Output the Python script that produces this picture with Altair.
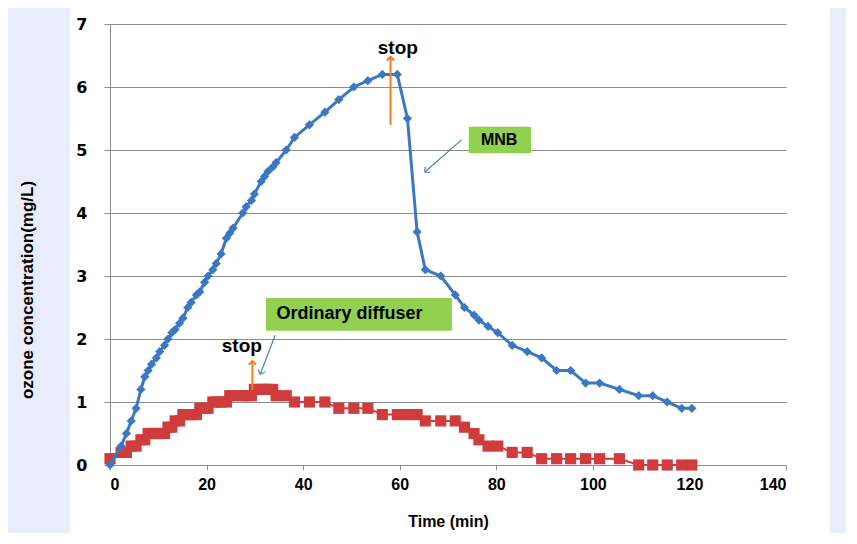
import altair as alt
import pandas as pd

# ---- data ----
time_min = [0, 2.3, 3.4, 4.4, 5.4, 6.4, 7.2, 7.9, 8.6, 9.6,
            10.3, 11.3, 12, 12.8, 13.5, 14.4, 15.1, 16.1, 16.8, 17.9,
            18.6, 19.6, 20.3, 21.3, 22, 23, 24.1, 24.8, 25.5, 27.5,
            28.2, 29.3, 29.9, 31.3, 32, 32.7, 33.7, 34.4, 36.5, 38.2,
            41.3, 44.5, 47.4, 50.5, 53.4, 56.4, 59.5, 61.6, 63.6, 65.3,
            68.5, 71.5, 73.4, 75.4, 76.4, 78.3, 80.3, 83.3, 86.4, 89.4,
            92.5, 95.4, 98.5, 101.4, 105.5, 109.5, 112.4, 115.4, 118.4, 120.5]
mnb = [0, 0.3, 0.5, 0.7, 0.9, 1.2, 1.4, 1.5, 1.6, 1.7,
       1.8, 1.9, 2.0, 2.1, 2.15, 2.25, 2.33, 2.5, 2.58, 2.7,
       2.75, 2.9, 3.0, 3.1, 3.2, 3.35, 3.6, 3.68, 3.76, 4.0,
       4.1, 4.2, 4.3, 4.5, 4.58, 4.66, 4.73, 4.8, 5.0, 5.2,
       5.4, 5.6, 5.8, 6.0, 6.1, 6.2, 6.2, 5.5, 3.7, 3.1,
       3.0, 2.7, 2.5, 2.38, 2.3, 2.2, 2.1, 1.9, 1.8, 1.7,
       1.5, 1.5, 1.3, 1.3, 1.2, 1.1, 1.1, 1.0, 0.9, 0.9]
diffuser = [0.1, 0.2, 0.2, 0.3, 0.3, 0.4, 0.4, 0.5, 0.5, 0.5,
            0.5, 0.5, 0.6, 0.6, 0.7, 0.7, 0.8, 0.8, 0.8, 0.8,
            0.9, 0.9, 0.9, 1.0, 1.0, 1.0, 1.0, 1.1, 1.1, 1.1,
            1.1, 1.1, 1.2, 1.2, 1.2, 1.2, 1.2, 1.1, 1.1, 1.0,
            1.0, 1.0, 0.9, 0.9, 0.9, 0.8, 0.8, 0.8, 0.8, 0.7,
            0.7, 0.7, 0.6, 0.5, 0.4, 0.3, 0.3, 0.2, 0.2, 0.1,
            0.1, 0.1, 0.1, 0.1, 0.1, 0, 0, 0, 0, 0]

x_ticks = [0, 20, 40, 60, 80, 100, 120, 140]
y_ticks = [0, 1, 2, 3, 4, 5, 6, 7]

# annotations (data units)
stop_t = [59.6, 27.3]
stop_c = [6.62, 1.89]
stop_labels = ["stop", "stop"]
orange_t = [58.1, 29.5]
orange_c0 = [5.4, 1.19]
orange_c1 = [6.48, 1.65]
box_labels = ["MNB", "Ordinary diffuser"]
box_t0 = [74.3, 32.3]
box_t1 = [87.2, 70.8]
box_c0 = [4.95, 2.13]
box_c1 = [5.37, 2.65]
box_tc = [80.6, 49.6]
box_cc = [5.16, 2.39]
box_fs = [16, 18]
call_t0 = [72.8, 34.2]
call_c0 = [5.16, 2.06]
call_t1 = [65.2, 31.1]
call_c1 = [4.65, 1.44]
call_angle = [229, 201]

BLUE = "#3b78c3"
RED = "#d03c3c"
ORANGE = "#f47d20"
GREEN = "#92d050"
GRID = "#8c8c8c"
BG = "#e9ecfa"

df = pd.DataFrame({"time": time_min, "mnb": mnb, "diffuser": diffuser})
stops = pd.DataFrame({"t": stop_t, "c": stop_c, "label": stop_labels})
oranges = pd.DataFrame({"t": orange_t, "c0": orange_c0, "c1": orange_c1, "ang": [0, 0]})
boxes = pd.DataFrame({"t0": box_t0, "t1": box_t1, "c0": box_c0, "c1": box_c1,
                      "tc": box_tc, "cc": box_cc, "label": box_labels, "fs": box_fs})
calls = pd.DataFrame({"t0": call_t0, "c0": call_c0, "t1": call_t1, "c1": call_c1,
                      "ang": call_angle})
one = pd.DataFrame({"k": [0]})

xs = alt.Scale(domain=[0, 140], nice=False, zero=False)
ys = alt.Scale(domain=[0, 7], nice=False)

x_axis = alt.Axis(values=x_ticks, title="Time (min)", grid=False,
                  domainColor=GRID, tickColor=GRID, tickSize=5,
                  labelFont="Liberation Sans Narrow, Liberation Sans", labelFontSize=16,
                  labelFontWeight="bold", labelColor="black", labelPadding=6,
                  titleFont="Liberation Sans Narrow, Liberation Sans", titleFontSize=16,
                  titleFontWeight="bold", titleColor="black",
                  titleBaseline="middle", titleY=56)
y_axis = alt.Axis(values=y_ticks, title=None, grid=True, gridColor=GRID,
                  gridWidth=1, gridOpacity=1,
                  domainColor=GRID, tickColor=GRID, tickSize=6,
                  labelFont="DejaVu Sans", labelFontSize=16, labelFontWeight="bold",
                  labelColor="black", labelPadding=17)


def X(f):
    return alt.X(f, type="quantitative", scale=xs, axis=x_axis)


def Y(f):
    return alt.Y(f, type="quantitative", scale=ys, axis=y_axis)


left_strip = alt.Chart(one).mark_rect(color=BG).encode(
    x=alt.value(-102), x2=alt.value(-40), y=alt.value(-16), y2=alt.value(509))
right_strip = alt.Chart(one).mark_rect(color=BG).encode(
    x=alt.value(720), x2=alt.value(736), y=alt.value(-16), y2=alt.value(509))

mnb_line = alt.Chart(df).mark_line(color=BLUE, strokeWidth=3).encode(x=X("time"), y=Y("mnb"))
mnb_pts = alt.Chart(df).mark_point(shape="diamond", filled=True, color=BLUE, size=85,
                                   opacity=1).encode(x=X("time"), y=Y("mnb"))
dif_line = alt.Chart(df).mark_line(color=RED, strokeWidth=2).encode(x=X("time"), y=Y("diffuser"))
dif_pts = alt.Chart(df).mark_point(shape="square", filled=True, color=RED, size=125,
                                   opacity=1).encode(x=X("time"), y=Y("diffuser"))

chev = "M -1 1 L 0 0 L 1 1"
orange_shaft = alt.Chart(oranges).mark_rule(color=ORANGE, strokeWidth=2).encode(
    x=X("t"), y=Y("c0"), y2=alt.Y2("c1"))
orange_head = alt.Chart(oranges).mark_point(shape=chev, filled=False, color=ORANGE,
                                            strokeWidth=2, size=55, opacity=1).encode(
    x=X("t"), y=Y("c1"), angle=alt.Angle("ang:Q", scale=None))
stop_text = alt.Chart(stops).mark_text(font="Liberation Sans", fontSize=19, fontWeight="bold",
                                       color="black", baseline="middle").encode(
    x=X("t"), y=Y("c"), text="label:N")

box_rect = alt.Chart(boxes).mark_rect(color=GREEN).encode(
    x=X("t0"), x2=alt.X2("t1"), y=Y("c0"), y2=alt.Y2("c1"))
box_text = alt.Chart(boxes).mark_text(font="Liberation Sans", fontWeight="bold",
                                      color="black", baseline="middle").encode(
    x=X("tc"), y=Y("cc"), text="label:N", size=alt.Size("fs:Q", scale=None))
call_line = alt.Chart(calls).mark_rule(color="#4a7ebb", strokeWidth=1.2).encode(
    x=X("t0"), y=Y("c0"), x2=alt.X2("t1"), y2=alt.Y2("c1"))
call_head = alt.Chart(calls).mark_point(shape=chev, filled=False, color="#4a7ebb",
                                        strokeWidth=1.2, size=60, opacity=1).encode(
    x=X("t1"), y=Y("c1"), angle=alt.Angle("ang:Q", scale=None))

y_title = alt.Chart(one).mark_text(font="Liberation Sans", fontSize=17, fontWeight="bold",
                                   color="black", angle=270, align="center",
                                   baseline="middle").encode(
    x=alt.value(-82), y=alt.value(266), text=alt.value("ozone concentration(mg/L)"))

chart = alt.layer(
    left_strip, right_strip,
    dif_line, dif_pts, mnb_line, mnb_pts,
    orange_shaft, orange_head, stop_text,
    box_rect, box_text, call_line, call_head,
    y_title,
).properties(
    width=676, height=441,
    padding={"left": 102, "top": 16, "right": 60, "bottom": 68},
    autosize=alt.AutoSizeParams(type="none"),
    background="white",
).configure_view(strokeWidth=0)

chart.save("out.html", embed_options={"renderer": "svg", "actions": False})
